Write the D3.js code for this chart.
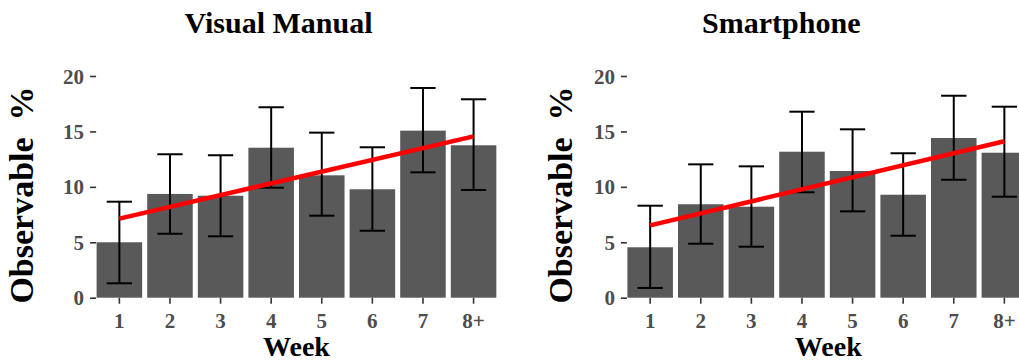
<!DOCTYPE html>
<html>
<head>
<meta charset="utf-8">
<script src="https://cdn.jsdelivr.net/npm/d3@7"></script>
<style>
  html, body { margin: 0; padding: 0; background: #fff; }
  svg { display: block; font-family: "Liberation Serif", "Times New Roman", serif; }
</style>
</head>
<body>
<svg id="chart" width="1019" height="363"></svg>
<script>
// Weekly observable percentage, with 95% interval bounds, per interface type
const weeks = ["1", "2", "3", "4", "5", "6", "7", "8+"];
const yTicks = [0, 5, 10, 15, 20];

const visualManualPct   = [5.0, 9.36, 9.2, 13.53, 11.04, 9.78, 15.07, 13.75];
const visualManualLower = [1.30, 5.77, 5.54, 9.92, 7.40, 6.04, 11.31, 9.72];
const visualManualUpper = [8.66, 12.94, 12.85, 17.18, 14.89, 13.57, 18.92, 17.90];

const smartphonePct   = [4.55, 8.43, 8.21, 13.17, 11.43, 9.29, 14.41, 13.08];
const smartphoneLower = [0.88, 4.87, 4.60, 9.51, 7.79, 5.59, 10.64, 9.11];
const smartphoneUpper = [8.30, 12.03, 11.85, 16.78, 15.19, 13.03, 18.22, 17.23];

const panels = [
  { title: "Visual Manual", pct: visualManualPct, lo: visualManualLower, hi: visualManualUpper,
    left: 96.6, titleX: 278.5, yLabelX: 33, weekX: 296.5 },
  { title: "Smartphone", pct: smartphonePct, lo: smartphoneLower, hi: smartphoneUpper,
    left: 627.4, titleX: 781.3, yLabelX: 571.5, weekX: 828.3 }
];

const svg = d3.select("#chart");
const step = 50.6;
const yScale = d3.scaleLinear().domain([0, 20]).range([297.7, 76]);

// ordinary least squares fit of percentage on week index
function linearFit(vals) {
  const xs = vals.map((_, i) => i + 1);
  const mx = d3.mean(xs), my = d3.mean(vals);
  const sxy = d3.sum(xs, (x, i) => (x - mx) * (vals[i] - my));
  const sxx = d3.sum(xs, x => (x - mx) * (x - mx));
  const slope = sxy / sxx;
  return x => my + slope * (x - mx);
}

panels.forEach(p => {
  const x = d3.scaleBand()
    .domain(weeks)
    .range([p.left, p.left + step * 7.9])
    .paddingInner(0.1)
    .paddingOuter(0);
  const cx = w => x(w) + x.bandwidth() / 2;
  const g = svg.append("g");

  // title
  g.append("text")
    .attr("x", p.titleX).attr("y", 33)
    .attr("text-anchor", "middle")
    .attr("font-size", 30).attr("font-weight", "bold")
    .attr("fill", "#000")
    .text(p.title);

  // bars
  g.selectAll("rect.bar").data(weeks).join("rect")
    .attr("class", "bar")
    .attr("x", w => x(w))
    .attr("width", x.bandwidth())
    .attr("y", (w, i) => yScale(p.pct[i]))
    .attr("height", (w, i) => yScale(0) - yScale(p.pct[i]))
    .attr("fill", "#595959");

  // error bars
  const capHalf = step * 0.25;
  const eb = g.selectAll("g.err").data(weeks).join("g").attr("class", "err")
    .attr("stroke", "#000").attr("stroke-width", 2).attr("fill", "none");
  eb.append("line")
    .attr("x1", w => cx(w)).attr("x2", w => cx(w))
    .attr("y1", (w, i) => yScale(p.hi[i])).attr("y2", (w, i) => yScale(p.lo[i]));
  eb.append("line")
    .attr("x1", w => cx(w) - capHalf).attr("x2", w => cx(w) + capHalf)
    .attr("y1", (w, i) => yScale(p.hi[i])).attr("y2", (w, i) => yScale(p.hi[i]));
  eb.append("line")
    .attr("x1", w => cx(w) - capHalf).attr("x2", w => cx(w) + capHalf)
    .attr("y1", (w, i) => yScale(p.lo[i])).attr("y2", (w, i) => yScale(p.lo[i]));

  // linear trend
  const fit = linearFit(p.pct);
  const line = d3.line().x(d => cx(weeks[d - 1])).y(d => yScale(fit(d)));
  g.append("path")
    .datum([1, weeks.length])
    .attr("d", line)
    .attr("stroke", "#ff0000").attr("stroke-width", 4.5)
    .attr("fill", "none").attr("stroke-linecap", "butt");

  // y axis (ticks and labels only)
  const yAxis = d3.axisLeft(yScale).tickValues(yTicks).tickSize(6).tickPadding(6);
  const ya = g.append("g").attr("transform", `translate(${p.left - 0.5},0)`).call(yAxis);
  ya.select(".domain").remove();
  ya.selectAll(".tick line").attr("stroke", "#333").attr("stroke-width", 1.6);
  ya.selectAll(".tick text")
    .attr("font-family", "'Liberation Serif', 'Times New Roman', serif")
    .attr("font-size", 21).attr("font-weight", "bold").attr("fill", "#4d4d4d")
    .attr("dy", "0.34em");

  // x axis
  const xAxis = d3.axisBottom(x).tickSize(6).tickPadding(6);
  const xa = g.append("g").attr("transform", `translate(0,${yScale(0)})`).call(xAxis);
  xa.select(".domain").remove();
  xa.selectAll(".tick line").attr("stroke", "#333").attr("stroke-width", 1.6);
  xa.selectAll(".tick text")
    .attr("font-family", "'Liberation Serif', 'Times New Roman', serif")
    .attr("font-size", 21).attr("font-weight", "bold").attr("fill", "#4d4d4d")
    .attr("dy", null).attr("y", 30.5);

  // axis titles
  g.append("text")
    .attr("x", p.weekX).attr("y", 356)
    .attr("text-anchor", "middle")
    .attr("font-size", 28).attr("font-weight", "bold").attr("fill", "#000")
    .text("Week");
  g.append("text")
    .attr("transform", `translate(${p.yLabelX},195) rotate(-90)`)
    .attr("text-anchor", "middle")
    .attr("font-size", 34).attr("font-weight", "bold").attr("fill", "#000")
    .style("white-space", "pre")
    .text("Observable  %");
});
</script>
</body>
</html>
